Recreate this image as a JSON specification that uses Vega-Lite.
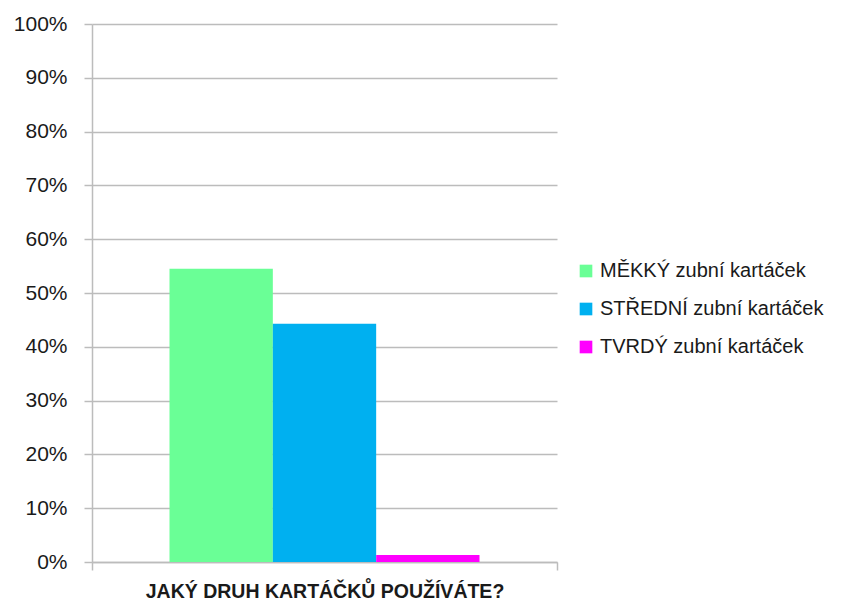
{
  "$schema": "https://vega.github.io/schema/vega-lite/v6.json",
  "width": 465,
  "height": 538,
  "autosize": "none",
  "padding": {"left": 92, "top": 24, "right": 287, "bottom": 39},
  "background": "white",
  "config": {
    "view": {"stroke": null},
    "font": "Liberation Sans"
  },
  "data": {
    "values": [
      {"otazka": "JAKÝ DRUH KARTÁČKŮ POUŽÍVÁTE?", "typ": "MĚKKÝ zubní kartáček", "podil": 0.545},
      {"otazka": "JAKÝ DRUH KARTÁČKŮ POUŽÍVÁTE?", "typ": "STŘEDNÍ zubní kartáček", "podil": 0.443},
      {"otazka": "JAKÝ DRUH KARTÁČKŮ POUŽÍVÁTE?", "typ": "TVRDÝ zubní kartáček", "podil": 0.013}
    ]
  },
  "mark": {"type": "bar"},
  "encoding": {
    "x": {
      "field": "otazka",
      "type": "nominal",
      "scale": {"paddingInner": 0, "paddingOuter": 0},
      "axis": {
        "title": null,
        "labelAngle": 0,
        "labelFont": "Liberation Sans",
        "labelFontSize": 19.5,
        "labelFontWeight": "bold",
        "labelColor": "#1a1a1a",
        "labelPadding": 12,
        "labelLimit": 600,
        "tickBand": "extent",
        "tickSize": 8,
        "tickColor": "#bcbcbc",
        "domainColor": "#bcbcbc",
        "tickWidth": 1.5,
        "domainWidth": 1.5
      }
    },
    "xOffset": {
      "field": "typ",
      "type": "nominal",
      "scale": {"paddingInner": 0, "paddingOuter": 0.75},
      "sort": ["MĚKKÝ zubní kartáček", "STŘEDNÍ zubní kartáček", "TVRDÝ zubní kartáček"]
    },
    "y": {
      "field": "podil",
      "type": "quantitative",
      "scale": {"domain": [0, 1], "nice": false},
      "axis": {
        "title": null,
        "values": [0, 0.1, 0.2, 0.3, 0.4, 0.5, 0.6, 0.7, 0.8, 0.9, 1],
        "format": ".0%",
        "labelFont": "Liberation Sans",
        "labelFontSize": 21,
        "labelColor": "#1a1a1a",
        "labelPadding": 17,
        "tickSize": 8,
        "tickColor": "#bcbcbc",
        "tickWidth": 1.5,
        "domainColor": "#bcbcbc",
        "domainWidth": 1.5,
        "gridColor": "#bcbcbc",
        "gridWidth": 1.5
      }
    },
    "color": {
      "field": "typ",
      "type": "nominal",
      "sort": ["MĚKKÝ zubní kartáček", "STŘEDNÍ zubní kartáček", "TVRDÝ zubní kartáček"],
      "scale": {
        "domain": ["MĚKKÝ zubní kartáček", "STŘEDNÍ zubní kartáček", "TVRDÝ zubní kartáček"],
        "range": ["#6aff96", "#00b0f0", "#ff00ff"]
      },
      "legend": {
        "title": null,
        "orient": "none",
        "legendX": 484,
        "legendY": 237,
        "symbolType": "square",
        "symbolSize": 160,
        "symbolStrokeWidth": 0,
        "labelFont": "Liberation Sans",
        "labelFontSize": 20,
        "labelColor": "#1a1a1a",
        "labelOffset": 4,
        "rowPadding": 18,
        "labelLimit": 300
      }
    }
  }
}
